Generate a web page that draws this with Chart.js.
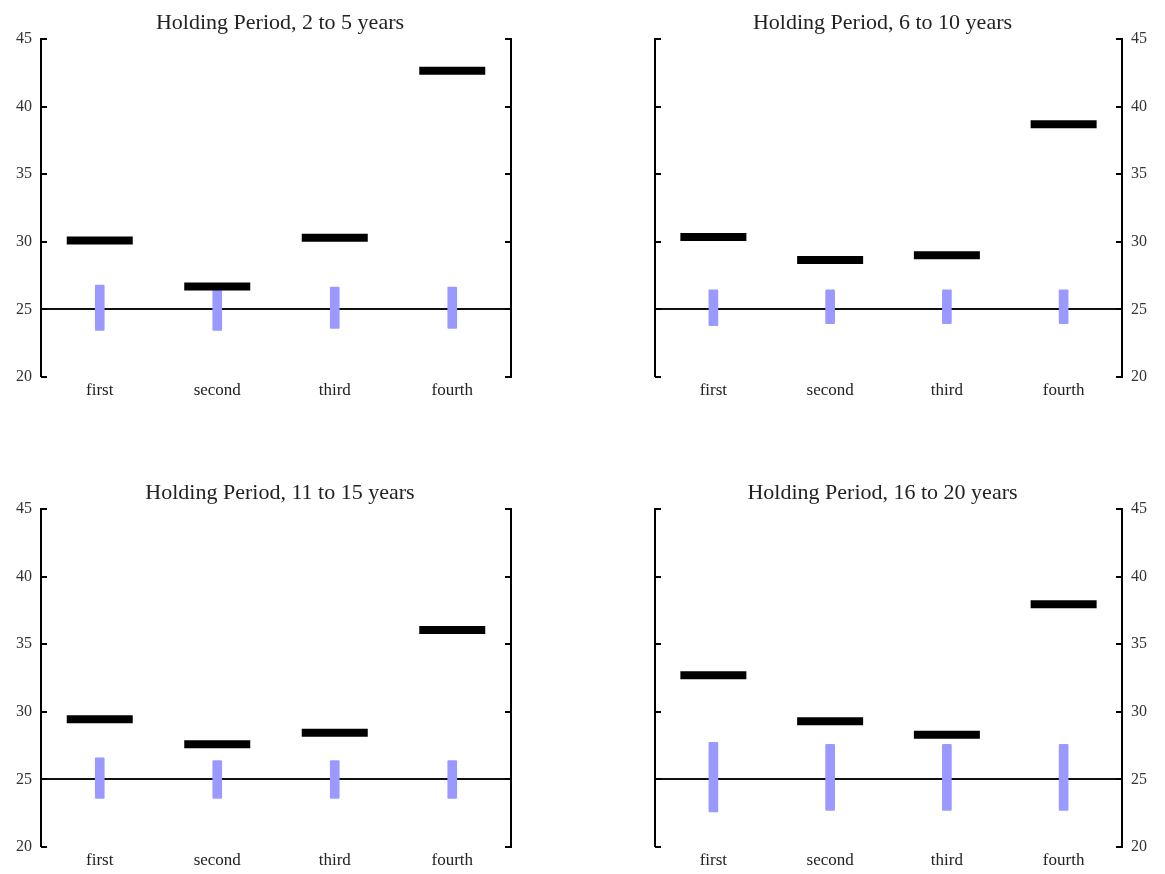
<!DOCTYPE html>
<html>
<head>
<meta charset="utf-8">
<script src="https://cdn.jsdelivr.net/npm/chart.js@4"></script>
<style>
  body { margin: 0; background: #fff; width: 1165px; height: 874px; overflow: hidden; position: relative; }
  .panel { position: absolute; }
</style>
</head>
<body>
<div class="panel" style="left:0;top:0;width:560px;height:410px"><canvas id="c1"></canvas></div>
<div class="panel" style="left:600px;top:0;width:565px;height:410px"><canvas id="c2"></canvas></div>
<div class="panel" style="left:0;top:470px;width:560px;height:404px"><canvas id="c3"></canvas></div>
<div class="panel" style="left:600px;top:470px;width:565px;height:404px"><canvas id="c4"></canvas></div>
<script>
const categories = ['first', 'second', 'third', 'fourth'];
const yTicks = [20, 25, 30, 35, 40, 45];
const baseline = 25;

const titles = [
  'Holding Period, 2 to 5 years',
  'Holding Period, 6 to 10 years',
  'Holding Period, 11 to 15 years',
  'Holding Period, 16 to 20 years'
];

// black marks
const marks2to5 = [30.1, 26.7, 30.3, 42.65];
const marks6to10 = [30.35, 28.65, 29.0, 38.7];
const marks11to15 = [29.45, 27.6, 28.45, 36.05];
const marks16to20 = [32.7, 29.3, 28.3, 37.95];

// blue ranges (low / high)
const low2to5 = [23.45, 23.45, 23.6, 23.6];
const high2to5 = [26.8, 26.6, 26.65, 26.65];
const low6to10 = [23.8, 23.95, 23.95, 23.95];
const high6to10 = [26.45, 26.45, 26.45, 26.45];
const low11to15 = [23.6, 23.6, 23.6, 23.6];
const high11to15 = [26.6, 26.4, 26.4, 26.4];
const low16to20 = [22.6, 22.7, 22.7, 22.7];
const high16to20 = [27.75, 27.6, 27.6, 27.6];

const serif = "'Liberation Serif', 'DejaVu Serif', serif";

// inward tick marks on both vertical axes
const innerTicks = {
  id: 'innerTicks',
  afterDraw(chart) {
    const ctx = chart.ctx;
    const y = chart.scales.y;
    const a = chart.chartArea;
    ctx.save();
    ctx.strokeStyle = '#000';
    ctx.lineWidth = 2;
    yTicks.forEach(v => {
      const py = Math.round(y.getPixelForValue(v));
      ctx.beginPath();
      ctx.moveTo(a.left, py);
      ctx.lineTo(a.left + 6, py);
      ctx.moveTo(a.right, py);
      ctx.lineTo(a.right - 6, py);
      ctx.stroke();
    });
    ctx.restore();
  }
};

function makePanel(id, title, marks, lows, highs, labelsRight, leftW, rightW, xH) {
  const ranges = lows.map((l, i) => [l, highs[i]]);
  new Chart(document.getElementById(id), {
    type: 'bar',
    data: {
      labels: categories,
      datasets: [
        {
          type: 'line',
          data: marks,
          showLine: false,
          pointStyle: 'line',
          pointRadius: 33,
          pointHoverRadius: 33,
          pointBorderWidth: 8,
          pointHoverBorderWidth: 8,
          borderColor: '#000',
          backgroundColor: '#000',
          order: 0
        },
        {
          data: ranges,
          backgroundColor: '#9999ff',
          barThickness: 9,
          borderRadius: 1,
          borderSkipped: false,
          order: 1
        }
      ]
    },
    options: {
      responsive: true,
      maintainAspectRatio: false,
      animation: false,
      layout: { padding: 0, autoPadding: false },
      plugins: {
        legend: { display: false },
        tooltip: { enabled: false },
        title: {
          display: true,
          text: title,
          color: '#222',
          font: { family: serif, size: 22, weight: 'normal' },
          padding: { top: 10, bottom: 2.6 }
        }
      },
      scales: {
        x: {
          grid: { display: false, drawTicks: false },
          border: { display: false },
          ticks: { color: '#222', padding: 3, font: { family: serif, size: 17 } },
          afterFit: s => { s.height = xH; }
        },
        y: {
          position: 'left',
          min: 20,
          max: 45,
          ticks: {
            display: !labelsRight,
            stepSize: 5,
            padding: 9,
            color: '#333',
            font: { family: serif, size: 16 }
          },
          grid: {
            drawTicks: false,
            color: c => (c.tick && c.tick.value === baseline ? '#111' : 'rgba(0,0,0,0)'),
            lineWidth: c => (c.tick && c.tick.value === baseline ? 2 : 0)
          },
          border: { display: true, color: '#000', width: 2 },
          afterFit: s => { s.width = leftW; }
        },
        y2: {
          position: 'right',
          min: 20,
          max: 45,
          ticks: {
            display: labelsRight,
            stepSize: 5,
            padding: 9,
            color: '#333',
            font: { family: serif, size: 16 }
          },
          grid: { display: false, drawTicks: false },
          border: { display: true, color: '#000', width: 2 },
          afterFit: s => { s.width = rightW; }
        }
      }
    },
    plugins: [innerTicks]
  });
}

makePanel('c1', titles[0], marks2to5, low2to5, high2to5, false, 41, 49, 33);
makePanel('c2', titles[1], marks6to10, low6to10, high6to10, true, 55, 43, 33);
makePanel('c3', titles[2], marks11to15, low11to15, high11to15, false, 41, 49, 27);
makePanel('c4', titles[3], marks16to20, low16to20, high16to20, true, 55, 43, 27);
</script>
</body>
</html>
